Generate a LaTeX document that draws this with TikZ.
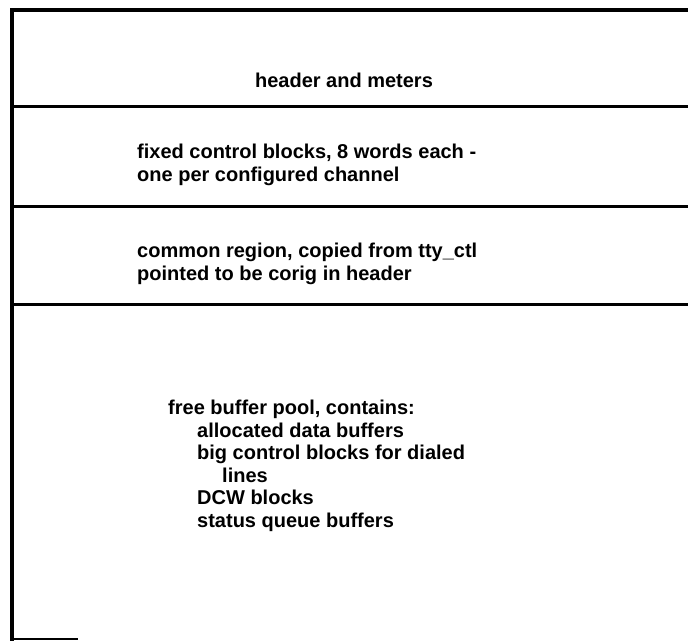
\documentclass[tikz,border=0pt]{standalone}
\usepackage{fontspec}
\setmainfont{Liberation Sans}
\begin{document}
\begin{tikzpicture}[x=1pt,y=-1pt,
  rule/.style={line width=3pt},
  lbl/.style={anchor=base west,inner sep=0pt,align=left,
    font=\bfseries\fontsize{20}{22.5}\selectfont}]
\useasboundingbox (0,0) rectangle (688,643);
% frame
\coordinate (tl) at (12,10);
\coordinate (tr) at (688,10);
\coordinate (bl) at (12,639);
\draw[line width=3.5pt,line cap=rect] (bl) -- (tl) -- (tr);
\draw[rule] (12,106) -- (688,106);
\draw[rule] (12,206) -- (688,206);
\draw[rule] (12,304) -- (688,304);
\draw[line width=1.5pt] (bl) -- (78,639);
% texts (anchored at the baseline of the last line)
\node[lbl,anchor=base] (hdr) at (344,87) {header and meters};
\node[lbl] (fcb) at (137,181) {fixed control blocks, 8 words each -\\one per configured channel};
\node[lbl] (com) at (137,280) {common region, copied from tty\_ctl\\pointed to be corig in header};
\node[lbl] (pool) at (168,527) {free buffer pool, contains:\\
\hspace*{29pt}allocated data buffers\\
\hspace*{29pt}big control blocks for dialed\\
\hspace*{54pt}lines\\
\hspace*{29pt}DCW blocks\\
\hspace*{29pt}status queue buffers};
\end{tikzpicture}
\end{document}
